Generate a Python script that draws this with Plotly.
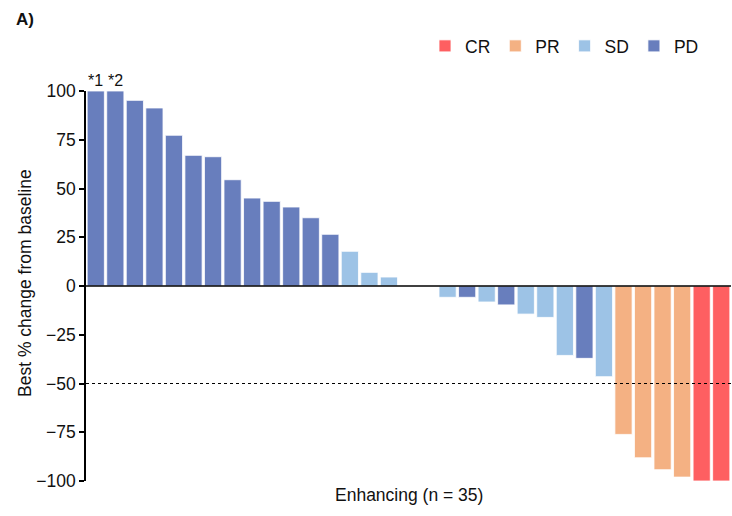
import plotly.graph_objects as go

# Data
values = [100, 100, 95.2, 91.3, 77.3, 67.0, 66.3, 54.5, 45.1, 43.4, 40.5, 35.0, 26.5,
          17.8, 7.0, 4.6, 0, 0,
          -5.8, -5.8, -8.2, -9.7, -14.4, -16.1, -35.6, -37.1, -46.5,
          -76.1, -88.1, -94.2, -98.0, -100, -100]
responses = ["PD"] * 13 + ["SD"] * 3 + ["SD", "SD"] + \
            ["SD", "PD", "SD", "PD", "SD", "SD", "SD", "PD", "SD"] + \
            ["PR"] * 4 + ["CR"] * 2
categories = ["CR", "PR", "SD", "PD"]
colors = {"CR": "#FE5F61", "PR": "#F4B183", "SD": "#9DC3E6", "PD": "#687EBD"}
labels = {0: "*1", 1: "*2"}
yticks = [-100, -75, -50, -25, 0, 25, 50, 75, 100]

positions = list(range(1, len(values) + 1))
fig = go.Figure()
for cat in categories:
    xs = [p for p, r in zip(positions, responses) if r == cat]
    ys = [v for v, r in zip(values, responses) if r == cat]
    fig.add_trace(go.Bar(x=xs, y=ys, name=cat, marker=dict(color=colors[cat],
                  line=dict(color="rgba(255,255,255,0.8)", width=1))))

for i, t in labels.items():
    fig.add_annotation(x=positions[i], y=values[i], text=t, showarrow=False,
                       yanchor="bottom", yshift=0, font=dict(size=16, color="#111"))

fig.add_shape(type="line", xref="paper", x0=0, x1=1, yref="y", y0=0, y1=0,
              line=dict(color="black", width=1.5))
fig.add_shape(type="line", xref="paper", x0=0, x1=1, yref="y", y0=-50, y1=-50,
              line=dict(color="black", width=1.2, dash="dot"))

fig.add_annotation(xref="paper", yref="paper", x=(25 - 86) / 645, y=(481 - 283) / 390,
                   xanchor="center", yanchor="middle",
                   text="Best % change from baseline",
                   textangle=-90, showarrow=False, font=dict(size=17.5, color="#111"))
fig.add_annotation(xref="paper", yref="paper", x=0.5, y=-14 / 390, yanchor="middle",
                   text="Enhancing (n = 35)", showarrow=False, font=dict(size=17.5, color="#111"))
fig.add_annotation(xref="paper", yref="paper", x=-72 / 645, y=1 + 71 / 390, xanchor="left", yanchor="middle",
                   text="<b>A)</b>", showarrow=False, font=dict(size=17, color="#111"))

fig.update_layout(
    width=732, height=516,
    margin=dict(l=86, r=1, t=91, b=35),
    paper_bgcolor="white", plot_bgcolor="white",
    font=dict(family="Liberation Sans, Arial, sans-serif", size=17, color="#111"),
    barmode="overlay", bargap=0.12,
    showlegend=True,
    legend=dict(orientation="h", x=(704 - 86) / 645, xanchor="right", y=1 + 45 / 390, yanchor="middle",
                font=dict(size=17.5), traceorder="normal", itemwidth=30),
    xaxis=dict(range=[0.5, len(values) + 0.5], showticklabels=False, showgrid=False,
               zeroline=False, showline=False, ticks=""),
    yaxis=dict(range=[-100, 100], tickvals=yticks, showgrid=False, zeroline=False,
               showline=True, linecolor="black", linewidth=1.5, ticks="outside",
               ticklen=5, tickwidth=1.5, tickcolor="black", tickfont=dict(size=17.5)),
)
fig.write_html("out.html", config={"displayModeBar": False},
               post_script="document.body.style.margin='0';document.body.style.overflow='hidden';")
